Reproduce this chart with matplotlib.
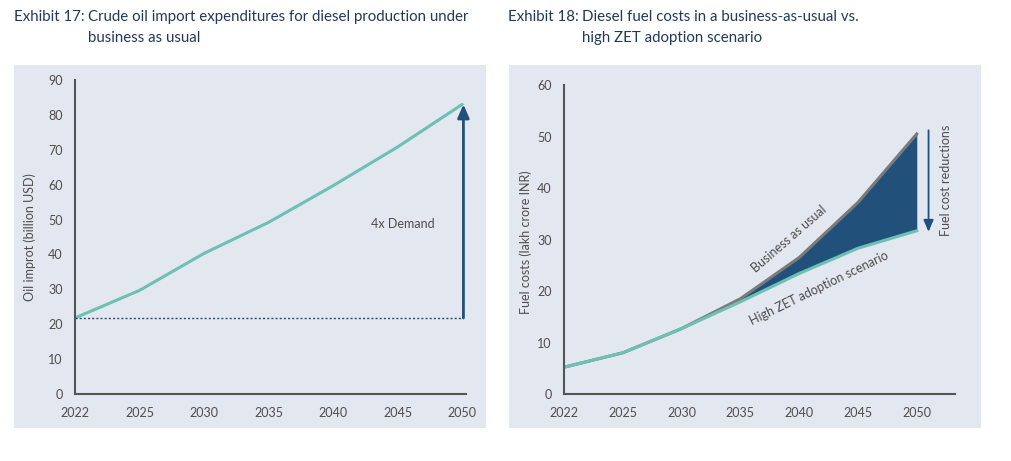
import matplotlib.pyplot as plt
from matplotlib.patches import Rectangle

plt.rcParams["font.family"] = ["Lato", "DejaVu Sans"]

# Exhibit 17: crude oil import expenditure (billion USD)
years = ["2022", "2025", "2030", "2035", "2040", "2045", "2050"]
oil_import = [21.8, 29.7, 40.3, 49.2, 59.7, 70.8, 83.0]

# Exhibit 18: diesel fuel costs (lakh crore INR)
bau_cost = [5.2, 8.0, 12.7, 18.5, 26.5, 37.2, 50.5]
zet_cost = [5.2, 8.0, 12.7, 17.9, 23.4, 28.3, 31.7]

TEAL = "#6cc0b4"
NAVY = "#21507a"
GREY = "#7a7a7a"
BG = "#e3e7ef"
TEXT = "#4d4d4d"
TITLE = "#22395a"
SPINE = "#555555"

W, H = 1012, 461
fig = plt.figure(figsize=(W / 100, H / 100), dpi=100)


def px_box(x0, y0, x1, y1):
    # pixel box (top-left origin) -> figure fraction rect
    return [x0 / W, (H - y1) / H, (x1 - x0) / W, (y1 - y0) / H]


for x0, x1 in [(14, 486), (509, 981)]:
    r = px_box(x0, 65, x1, 428)
    fig.patches.append(Rectangle((r[0], r[1]), r[2], r[3], transform=fig.transFigure,
                                 facecolor=BG, edgecolor="none", zorder=-5))

# titles with hanging indent
TSIZE = 10.8
fig.text(14 / W, 1 - 10 / H, "Exhibit 17:", fontsize=TSIZE, color=TITLE, va="top")
fig.text(88 / W, 1 - 10 / H, "Crude oil import expenditures for diesel production under\nbusiness as usual",
         fontsize=TSIZE, color=TITLE, va="top", ha="left", linespacing=1.6)
fig.text(508 / W, 1 - 10 / H, "Exhibit 18:", fontsize=TSIZE, color=TITLE, va="top")
fig.text(582 / W, 1 - 10 / H, "Diesel fuel costs in a business-as-usual vs.\nhigh ZET adoption scenario",
         fontsize=TSIZE, color=TITLE, va="top", ha="left", linespacing=1.6)


def style(ax):
    ax.set_facecolor("none")
    ax.set_zorder(2)
    for s in ["top", "right"]:
        ax.spines[s].set_visible(False)
    for s in ["left", "bottom"]:
        ax.spines[s].set_color(SPINE)
        ax.spines[s].set_linewidth(1.5)
    ax.tick_params(length=0, labelsize=9, labelcolor=TEXT, pad=9)
    ax.set_xticks(range(len(years)))
    ax.set_xticklabels(years)


# ---- left panel
ax1 = fig.add_axes(px_box(75, 80, 466, 394))
style(ax1)
x = list(range(len(years)))
ax1.plot(x, oil_import, color=TEAL, lw=2.2, solid_capstyle="round")
ax1.plot([0, 6], [oil_import[0], oil_import[0]], color=NAVY, lw=1, ls=(0, (1.5, 1.5)))
ax1.annotate("", xy=(6.02, oil_import[-1]), xytext=(6.02, oil_import[0]),
             arrowprops=dict(arrowstyle="-|>,head_width=0.35,head_length=0.8",
                             color=NAVY, lw=2, shrinkA=0, shrinkB=0))
ax1.text(5.08, 48.6, "4x Demand", fontsize=9, color=TEXT, ha="center", va="center")
ax1.set_xlim(0, 6.06)
ax1.set_ylim(0, 90)
ax1.set_yticks(range(0, 91, 10))
ax1.set_ylabel("Oil improt (billion USD)", fontsize=9, color=TEXT)
ax1.yaxis.set_label_coords(-0.10, 0.5)

# ---- right panel
ax2 = fig.add_axes(px_box(564, 85, 955, 394))
style(ax2)
ax2.fill_between(x, zet_cost, bau_cost, color=NAVY, lw=0)
ax2.plot(x, bau_cost, color=GREY, lw=2.2)
ax2.plot(x, zet_cost, color=TEAL, lw=2.2)
ax2.annotate("", xy=(6.2, 31.5), xytext=(6.2, 51.2),
             arrowprops=dict(arrowstyle="-|>,head_width=0.3,head_length=0.7",
                             color=NAVY, lw=1.3, shrinkA=0, shrinkB=0))
ax2.text(6.5, 41.5, "Fuel cost reductions", rotation=90, fontsize=9, color=TEXT,
         ha="center", va="center")
ax2.text(3.83, 30.2, "Business as usual", rotation=41, fontsize=9, color=TEXT,
         ha="center", va="center")
ax2.text(4.34, 20.5, "High ZET adoption scenario", rotation=26, fontsize=9, color=TEXT,
         ha="center", va="center")
ax2.set_xlim(0, 6.65)
ax2.set_ylim(0, 60)
ax2.set_yticks(range(0, 61, 10))
ax2.set_ylabel("Fuel costs (lakh crore INR)", fontsize=9, color=TEXT)
ax2.yaxis.set_label_coords(-0.082, 0.49)

fig.savefig("out.png", dpi=100)
